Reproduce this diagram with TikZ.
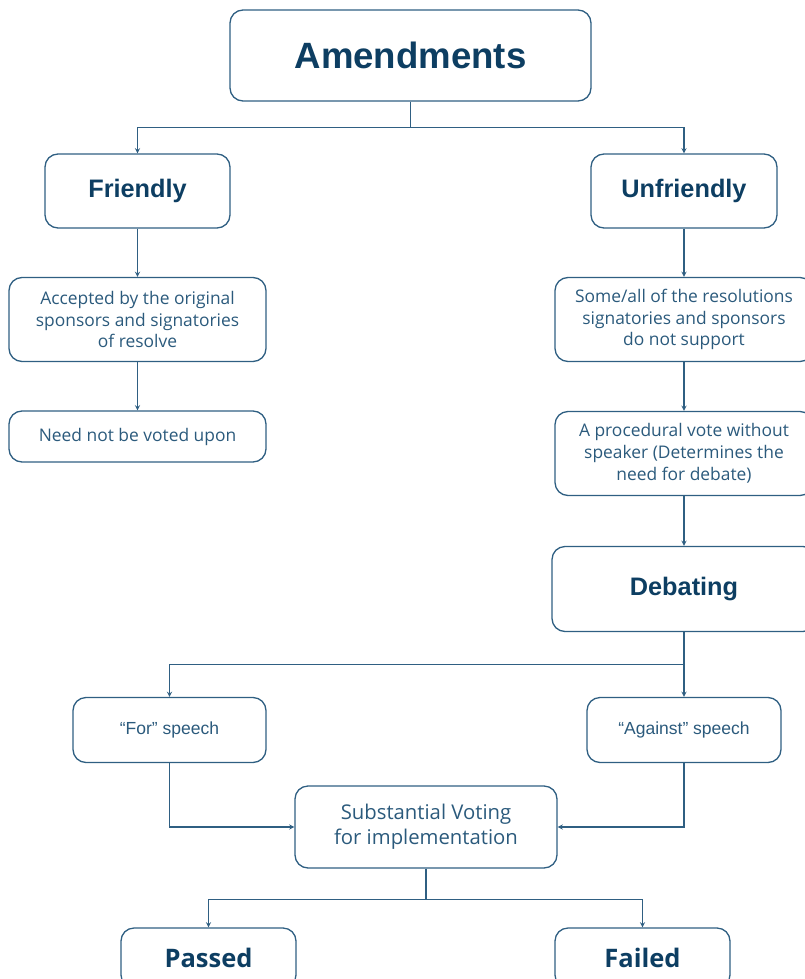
\documentclass[tikz,border=0pt]{standalone}
\usepackage{fontspec}
\setmainfont{Open Sans}
\newfontfamily\arialfont{Liberation Sans}
\usetikzlibrary{arrows,shapes}
\definecolor{linec}{HTML}{2F5F82}
\definecolor{headc}{HTML}{0D3E62}
\definecolor{bodyc}{HTML}{2B5A7C}

\begin{document}
\begin{tikzpicture}[x=1pt, y=-1pt, >=stealth]
	\tikzstyle{every node} = [rectangle]
	\tikzstyle{box}   = [draw=linec, line width=1.3pt, rounded corners=13pt, align=center, inner sep=0pt]
	\tikzstyle{head}  = [box, text=headc, font=\arialfont\bfseries\fontsize{25.3}{30}\selectfont]
	\tikzstyle{body}  = [box, text=bodyc, font=\fontsize{17.4}{21.8}\selectfont]
	\tikzstyle{link}  = [draw=linec, line width=1.3pt]
	\useasboundingbox (0,0) rectangle (804,979);
	\node[head, minimum width=361pt, minimum height=91pt, font=\arialfont\bfseries\fontsize{36.6}{44}\selectfont] (amend) at (410.5,55.5) {Amendments};
	\node[head, minimum width=185pt, minimum height=74pt] (friendly)   at (137.5,191) {Friendly};
	\node[head, minimum width=186pt, minimum height=74pt] (unfriendly) at (684,191)   {Unfriendly};
	\node[body, minimum width=257pt, minimum height=84pt] (accepted)   at (137.5,319.5) {Accepted by the original\\sponsors and signatories\\of resolve};
	\node[body, minimum width=257pt, minimum height=51pt] (neednot)    at (137.5,436.5) {Need not be voted upon};
	\node[body, minimum width=258pt, minimum height=84pt] (someall)    at (684,319.5)   {Some/all of the resolutions\\signatories and sponsors\\do not support};
	\node[body, minimum width=258pt, minimum height=84pt] (procvote)   at (684,453.5)   {A procedural vote without\\speaker (Determines the\\need for debate)};
	\node[head, minimum width=264pt, minimum height=85pt] (debating)   at (684,589) {Debating};
	\node[body, minimum width=193pt, minimum height=65pt, font=\arialfont\fontsize{17.5}{21}\selectfont] (forsp)     at (169.5,730) {“For” speech};
	\node[body, minimum width=194pt, minimum height=65pt, font=\arialfont\fontsize{17.5}{21}\selectfont] (againstsp) at (684,730)   {“Against” speech};
	\node[body, minimum width=262pt, minimum height=82pt, font=\fontsize{20.3}{25}\selectfont] (subst) at (426,827) {Substantial Voting\\for implementation};
	\node[head, minimum width=175pt, minimum height=60pt, font=\bfseries\fontsize{25.5}{30}\selectfont] (passed) at (208.5,958) {Passed};
	\node[head, minimum width=175pt, minimum height=60pt, font=\bfseries\fontsize{25.5}{30}\selectfont] (failed) at (642.5,958) {Failed};
	\draw [link,->] (amend.south) -- ++(0,26) -| (friendly.north);
	\draw [link,->] (amend.south) -- ++(0,26) -| (unfriendly.north);
	\draw [link,->] (friendly) -- (accepted);
	\draw [link,->] (accepted) -- (neednot);
	\draw [link,->] (unfriendly) -- (someall);
	\draw [link,->] (someall) -- (procvote);
	\draw [link,->] (procvote) -- (debating);
	\draw [link,->] (debating.south) -- ++(0,32) -| (forsp.north);
	\draw [link,->] (debating) -- (againstsp);
	\draw [link,->] (forsp.south) |- (subst.west);
	\draw [link,->] (againstsp.south) |- (subst.east);
	\draw [link,->] (subst.south) -- ++(0,31) -| (passed.north);
	\draw [link,->] (subst.south) -- ++(0,31) -| (failed.north);
\end{tikzpicture}
\end{document}
